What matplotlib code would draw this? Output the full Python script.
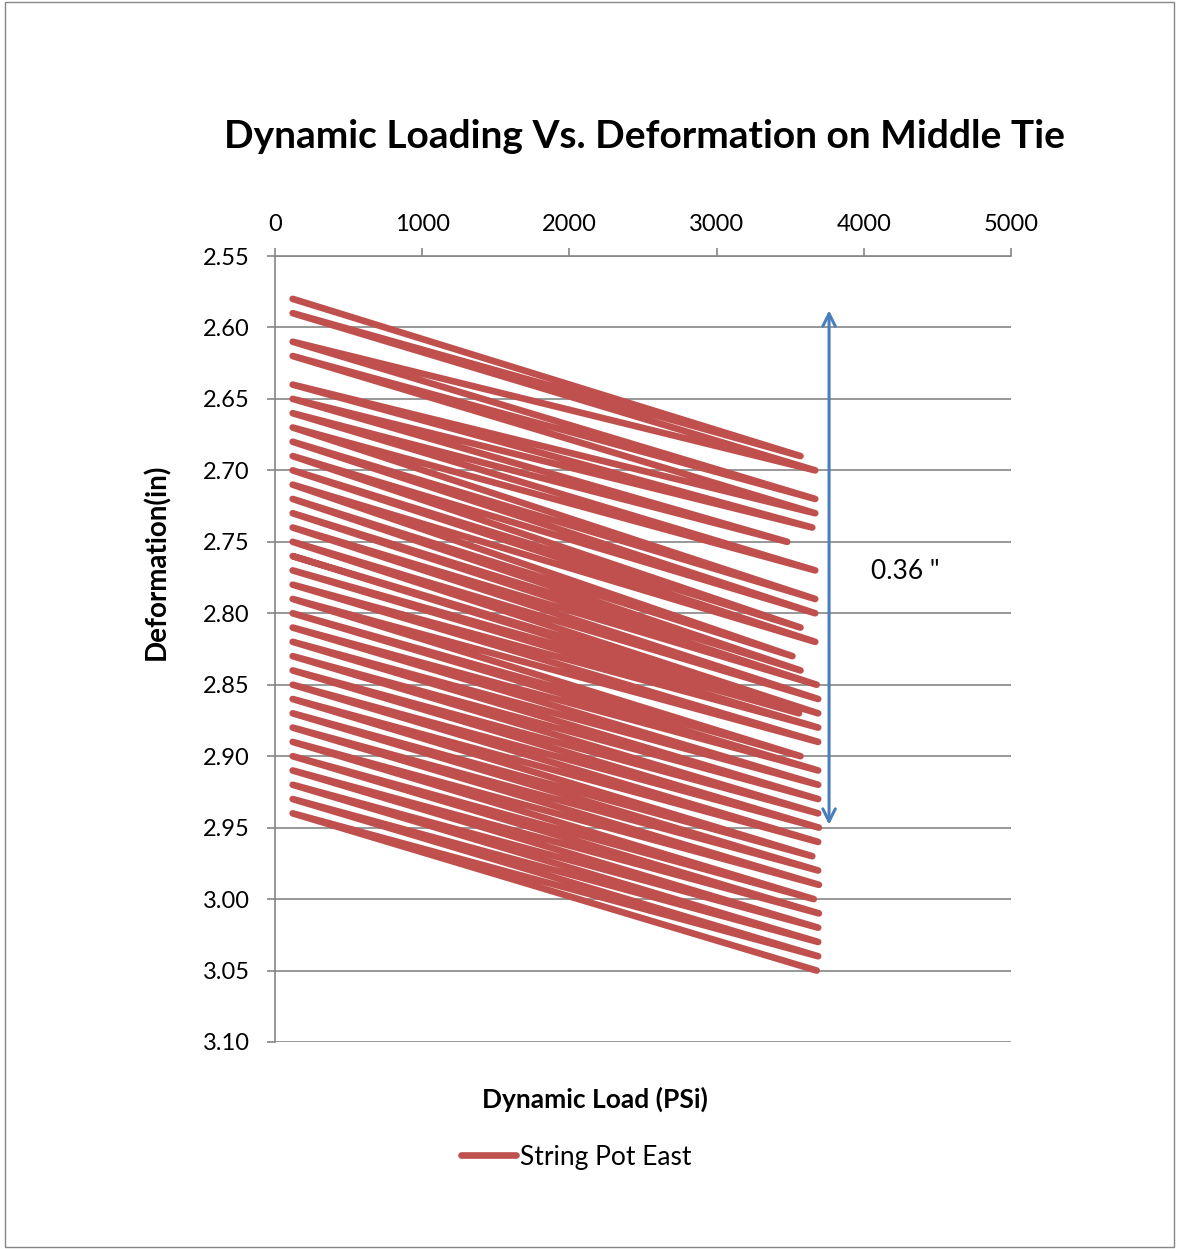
import matplotlib
matplotlib.use("Agg")
import matplotlib.pyplot as plt
from matplotlib.patches import Rectangle
from matplotlib.ticker import FormatStrFormatter, MultipleLocator

plt.rcParams['font.family'] = ['Lato', 'DejaVu Sans']

# Low-load (left) end of each loading cycle: load (PSi) and deformation (in)
left_load = [120] * 35
left_def = [2.58, 2.59, 2.61, 2.62, 2.64, 2.65, 2.66, 2.67, 2.68, 2.69,
            2.70, 2.71, 2.72, 2.73, 2.74, 2.75, 2.76, 2.77, 2.78, 2.79,
            2.80, 2.81, 2.82, 2.83, 2.84, 2.85, 2.86, 2.87, 2.88, 2.89,
            2.90, 2.91, 2.92, 2.93, 2.94]
# High-load (right) end of each loading cycle
right_load = [3570, 3670, 3670, 3670, 3650, 3480, 3670, 3670, 3670, 3570,
              3670, 3515, 3570, 3680, 3690, 3690, 3560, 3690, 3690, 3570,
              3690, 3690, 3690, 3690, 3695, 3690, 3650, 3690, 3695, 3660,
              3695, 3690, 3690, 3690, 3680]
right_def = [2.69, 2.70, 2.72, 2.73, 2.74, 2.75, 2.77, 2.79, 2.80, 2.81,
             2.82, 2.83, 2.84, 2.85, 2.86, 2.87, 2.87, 2.88, 2.89, 2.90,
             2.91, 2.92, 2.93, 2.94, 2.95, 2.96, 2.97, 2.98, 2.99, 3.00,
             3.01, 3.02, 3.03, 3.04, 3.05]

load = []
deform = []
for lx, ly, rx, ry in zip(left_load, left_def, right_load, right_def):
    load += [lx, rx]
    deform += [ly, ry]

x_ticks = [0, 1000, 2000, 3000, 4000, 5000]
range_text = '0.36 "'
range_top, range_bottom, range_x = 2.588, 2.948, 3764

W, H = 1178, 1249
fig = plt.figure(figsize=(W / 100, H / 100), dpi=100)
ax = fig.add_axes([275 / W, 1 - 1042 / H, (1011 - 275) / W, (1042 - 256) / H])

ax.plot(load, deform, color='#C0504D', lw=4.8, solid_capstyle='round',
        solid_joinstyle='round', label='String Pot East', zorder=3)

ax.set_xlim(0, 5000)
ax.set_ylim(3.10, 2.55)
ax.set_xticks(x_ticks)
ax.yaxis.set_major_locator(MultipleLocator(0.05))
ax.yaxis.set_major_formatter(FormatStrFormatter('%.2f'))
ax.xaxis.tick_top()
ax.tick_params(axis='both', labelsize=17, colors='#868686', labelcolor='black',
               length=6, width=1.2, direction='out')
ax.tick_params(axis='x', pad=9)
ax.tick_params(axis='y', pad=12)
for s in ['right', 'bottom']:
    ax.spines[s].set_visible(False)
for s in ['left', 'top']:
    ax.spines[s].set_color('#868686')
    ax.spines[s].set_linewidth(1.2)
ax.yaxis.grid(True, color='#868686', lw=1.2)
ax.set_axisbelow(True)

ax.annotate('', xy=(range_x, range_bottom), xytext=(range_x, range_top),
            arrowprops=dict(arrowstyle='<->,head_length=0.9,head_width=0.45',
                            color='#4A7EBB', lw=2.2, shrinkA=0, shrinkB=0),
            annotation_clip=False)
ax.text(4050, 2.771, range_text, fontsize=19, va='center', ha='left')

fig.text(645 / W, 1 - 137 / H, 'Dynamic Loading Vs. Deformation on Middle Tie',
         fontsize=28, fontweight='bold', ha='center', va='center')
fig.text(595 / W, 1 - 1099 / H, 'Dynamic Load (PSi)', fontsize=19,
         fontweight='bold', ha='center', va='center')
fig.text(157 / W, 1 - 562 / H, 'Deformation(in)', fontsize=20,
         fontweight='bold', ha='center', va='center', rotation=90)

fig.legend(loc='center', bbox_to_anchor=(576 / W, 1 - 1157 / H), frameon=False,
           fontsize=19, handlelength=2.1, handletextpad=0.15)

fig.patches.append(Rectangle((5 / W, 2 / H), (1174 - 5) / W, (1247 - 2) / H,
                             transform=fig.transFigure, fill=False,
                             edgecolor='#868686', lw=1))

fig.savefig('out.png', dpi=100)
